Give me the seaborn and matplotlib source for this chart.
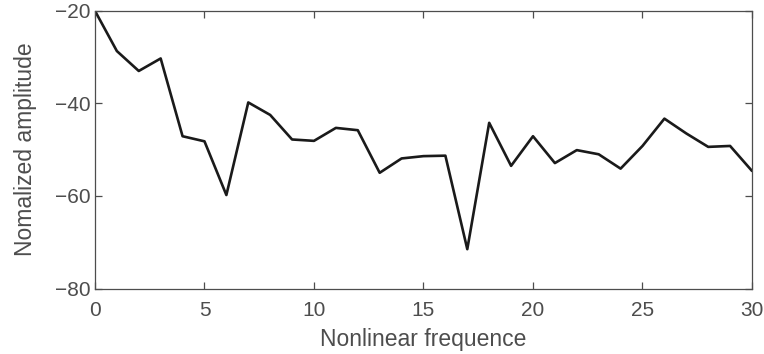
import matplotlib
matplotlib.use("Agg")
import matplotlib.pyplot as plt
from matplotlib.ticker import FuncFormatter
import seaborn as sns
import pandas as pd

# Normalized amplitude at each nonlinear frequency index
freq = list(range(31))
amplitude = [-20.0, -28.7, -33.0, -30.3, -47.1, -48.2, -59.8, -39.8, -42.5, -47.8,
             -48.1, -45.3, -45.8, -55.0, -51.9, -51.4, -51.3, -71.5, -44.2, -53.5,
             -47.1, -52.9, -50.1, -51.0, -54.1, -49.2, -43.3, -46.5, -49.4, -49.2,
             -54.6]
xticks = [0, 5, 10, 15, 20, 25, 30]
yticks = [-80, -60, -40, -20]

sns.set_style("ticks")
plt.rcParams["font.family"] = ["Liberation Sans", "DejaVu Sans"]

df = pd.DataFrame({"freq": freq, "amp": amplitude})

fig = plt.figure(figsize=(7.64, 3.54), dpi=100)
ax = fig.add_axes([0.1243, 0.1850, 0.8600, 0.7845])

sns.lineplot(data=df, x="freq", y="amp", ax=ax, color="#1a1a1a", linewidth=1.9)

ax.set_xlim(0, 30)
ax.set_ylim(-80, -20)
ax.set_xticks(xticks)
ax.set_yticks(yticks)
ax.yaxis.set_major_formatter(FuncFormatter(
    lambda v, _: ("\u2212" + f"{abs(v):.0f}") if v < 0 else f"{v:.0f}"))

grey = "#4d4d4d"
for side in ["left", "right", "top", "bottom"]:
    ax.spines[side].set_visible(True)
    ax.spines[side].set_color(grey)
    ax.spines[side].set_linewidth(0.9)
ax.tick_params(axis="both", which="major", direction="in", length=5, width=0.9,
               color=grey, labelcolor=grey, labelsize=15,
               top=True, right=True, bottom=True, left=True)
ax.tick_params(axis="x", pad=9)
ax.tick_params(axis="y", pad=3)

ax.set_xlabel("Nonlinear frequence", fontsize=16.5, color=grey, labelpad=6)
ax.set_ylabel("Nomalized amplitude", fontsize=16.5, color=grey, labelpad=13)

fig.savefig("out.png", dpi=100)
